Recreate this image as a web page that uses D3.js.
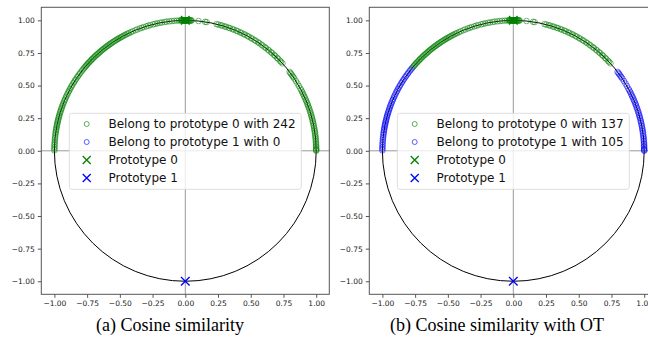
<!DOCTYPE html>
<html>
<head>
<meta charset="utf-8">
<script src="https://cdn.jsdelivr.net/npm/d3@7"></script>
<style>
  body { margin: 0; background: #fff; }
  svg { display: block; }
</style>
</head>
<body>
<svg id="fig" width="648" height="352"></svg>
<script>
// angles (degrees) of the unit-norm features on the circle
// with OT: points assigned to prototype 0
const protoZeroAngles = [
  140.4, 139.8, 139.3, 138.7, 138.2, 137.6, 137.1, 136.5, 136.0, 135.4,
  134.9, 134.3, 133.8, 133.2, 132.7, 132.1, 131.6, 131.0, 130.5, 129.9,
  129.4, 128.8, 128.3, 127.7, 127.2, 126.6, 126.1, 125.5, 125.0, 124.4,
  123.8, 123.3, 122.7, 122.2, 121.6, 121.0, 120.5, 119.9, 119.3, 118.7,
  118.1, 117.4, 116.8, 116.1, 115.4,
  114.5, 113.6, 112.4, 111.5, 110.3, 109.4, 108.5, 107.3, 106.4, 105.5,
  104.2, 103.3, 102.4, 101.2, 100.3, 99.1, 98.2, 97.0, 95.9, 94.8, 93.7, 92.6,
  91.9, 91.7, 91.5, 91.3, 91.1, 90.9, 90.8, 90.6, 90.5, 90.3,
  90.2, 90.1, 90.0, 89.9, 89.8, 89.7, 89.6, 89.4, 89.3, 89.1,
  88.9, 88.7, 88.5, 88.3, 88.0, 87.8, 87.5, 87.2,
  84.2, 81.3, 80.6,
  76.2, 75.4, 74.3, 73.6, 72.5, 71.8, 70.7, 70.0, 68.9, 68.2,
  67.1, 66.4, 65.3, 64.6, 63.5, 62.8, 61.7, 61.0, 59.9, 59.2,
  58.1, 57.4, 56.3, 55.6, 54.5, 53.8, 52.7, 52.0, 50.9, 50.2,
  49.1, 48.4, 47.3, 46.6, 45.5, 44.8, 43.7, 43.0, 42.1
];
// with OT: points assigned to prototype 1
const protoOneAngles = [
  141.0, 141.8, 142.5, 143.4, 144.1, 144.9, 145.6, 146.5, 147.2, 148.0,
  148.7, 149.6, 150.3, 151.1, 151.8, 152.6, 153.3, 154.1, 154.9, 155.6,
  156.4, 157.1, 157.8, 158.6, 159.3, 160.0, 160.7, 161.4, 162.1, 162.8,
  163.4, 164.1, 164.7, 165.3, 166.0, 166.6, 167.2, 167.8, 168.4, 169.0,
  169.7, 170.3, 170.9, 171.6, 172.3, 173.0, 173.8, 174.5, 175.3, 176.1,
  176.9, 177.6, 178.4, 179.1, 179.8,
  37.2, 36.5, 35.9, 35.1, 34.4, 33.6, 32.3, 31.0, 29.8, 28.5,
  27.6, 26.8, 25.9, 25.1, 24.4, 23.6, 22.8, 22.1, 21.3, 20.6,
  19.8, 19.1, 18.3, 17.5, 16.8, 16.0, 15.3, 14.6, 13.8, 13.1,
  12.4, 11.6, 10.9, 10.1, 9.4, 8.7, 8.0, 7.2, 6.5, 5.8,
  5.1, 4.4, 3.7, 3.0, 2.4, 1.8, 1.2, 0.7, 0.3, 0.0
];
const prototypes = [{ x: 0, y: 1 }, { x: 0, y: -1 }];
const tickValues = [-1, -0.75, -0.5, -0.25, 0, 0.25, 0.5, 0.75, 1];
const captions = ['(a) Cosine similarity', '(b) Cosine similarity with OT'];

const colors = ['#008000', '#0000ff'];
const toPoint = a => ({ x: Math.cos(a * Math.PI / 180), y: Math.sin(a * Math.PI / 180) });

const panels = [
  { left: 41.3, groups: [protoZeroAngles.concat(protoOneAngles), []], caption: captions[0], cx: 170 },
  { left: 369.3, groups: [protoZeroAngles, protoOneAngles], caption: captions[1], cx: 497 }
];

const svg = d3.select('#fig');
const plotTop = 7.3, plotW = 288, plotH = 287;
const fmt = v => d3.format('.2f')(v).replace('-', '\u2212');

panels.forEach(p => {
  const x = d3.scaleLinear().domain([-1.1, 1.1]).range([p.left, p.left + plotW]);
  const y = d3.scaleLinear().domain([-1.1, 1.1]).range([plotTop + plotH, plotTop]);
  const g = svg.append('g');

  // zero lines
  g.append('line').attr('x1', x(0)).attr('x2', x(0)).attr('y1', y(1.1)).attr('y2', y(-1.1))
    .attr('stroke', '#808080').attr('stroke-width', 0.8);
  g.append('line').attr('x1', x(-1.1)).attr('x2', x(1.1)).attr('y1', y(0)).attr('y2', y(0))
    .attr('stroke', '#808080').attr('stroke-width', 0.8);

  // unit circle
  g.append('ellipse').attr('cx', x(0)).attr('cy', y(0))
    .attr('rx', x(1) - x(0)).attr('ry', y(0) - y(1))
    .attr('fill', 'none').attr('stroke', '#000').attr('stroke-width', 1);

  // points
  p.groups.forEach((angles, i) => {
    g.selectAll(null).data(angles.map(toPoint)).enter().append('circle')
      .attr('cx', d => x(d.x)).attr('cy', d => y(d.y)).attr('r', 2.8)
      .attr('fill', 'none').attr('stroke', colors[i]).attr('stroke-opacity', 0.6)
      .attr('stroke-width', 0.9);
  });

  // prototypes
  prototypes.forEach((d, i) => {
    const px = x(d.x), py = y(d.y), s = 4.3;
    g.append('path').attr('d', `M${px - s},${py - s}L${px + s},${py + s}M${px - s},${py + s}L${px + s},${py - s}`)
      .attr('stroke', colors[i]).attr('stroke-width', 1.3).attr('fill', 'none');
  });

  // frame
  g.append('rect').attr('x', p.left).attr('y', plotTop).attr('width', plotW).attr('height', plotH)
    .attr('fill', 'none').attr('stroke', '#555').attr('stroke-width', 1);

  // axes
  const xa = g.append('g').attr('transform', `translate(0,${plotTop + plotH})`)
    .call(d3.axisBottom(x).tickValues(tickValues).tickFormat(fmt).tickSize(3.5).tickPadding(3));
  const ya = g.append('g').attr('transform', `translate(${p.left},0)`)
    .call(d3.axisLeft(y).tickValues(tickValues).tickFormat(fmt).tickSize(3.5).tickPadding(3));
  [xa, ya].forEach(a => {
    a.select('.domain').remove();
    a.selectAll('line').attr('stroke', '#555');
    a.selectAll('text').attr('font-family', 'DejaVu Sans').attr('font-size', 7.5).attr('fill', '#222');
  });

  // legend
  const lx = p.left + 28, ly = 113.3;
  const lg = g.append('g');
  lg.append('rect').attr('x', lx).attr('y', ly).attr('width', 232).attr('height', 76)
    .attr('rx', 2.5).attr('fill', '#fff').attr('fill-opacity', 0.8)
    .attr('stroke', '#d6d6d6').attr('stroke-width', 0.8);
  const items = [
    { type: 'o', c: 0, label: `Belong to prototype 0 with ${p.groups[0].length}` },
    { type: 'o', c: 1, label: `Belong to prototype 1 with ${p.groups[1].length}` },
    { type: 'x', c: 0, label: 'Prototype 0' },
    { type: 'x', c: 1, label: 'Prototype 1' }
  ];
  items.forEach((it, i) => {
    const ry = ly + 10.7 + i * 18, mx = lx + 17.4;
    if (it.type === 'o') {
      lg.append('circle').attr('cx', mx).attr('cy', ry).attr('r', 2.5)
        .attr('fill', 'none').attr('stroke', colors[it.c]).attr('stroke-opacity', 0.7).attr('stroke-width', 0.9);
    } else {
      const s = 4;
      lg.append('path').attr('d', `M${mx - s},${ry - s}L${mx + s},${ry + s}M${mx - s},${ry + s}L${mx + s},${ry - s}`)
        .attr('stroke', colors[it.c]).attr('stroke-width', 1.3);
    }
    lg.append('text').attr('x', lx + 39.2).attr('y', ry).attr('dy', '0.36em')
      .attr('font-family', 'DejaVu Sans').attr('font-size', 12).attr('fill', '#111').text(it.label);
  });

  // caption
  svg.append('text').attr('x', p.cx).attr('y', 331).attr('text-anchor', 'middle')
    .attr('font-family', 'Liberation Serif').attr('font-size', 18).attr('fill', '#000')
    .text(p.caption);
});
</script>
</body>
</html>
